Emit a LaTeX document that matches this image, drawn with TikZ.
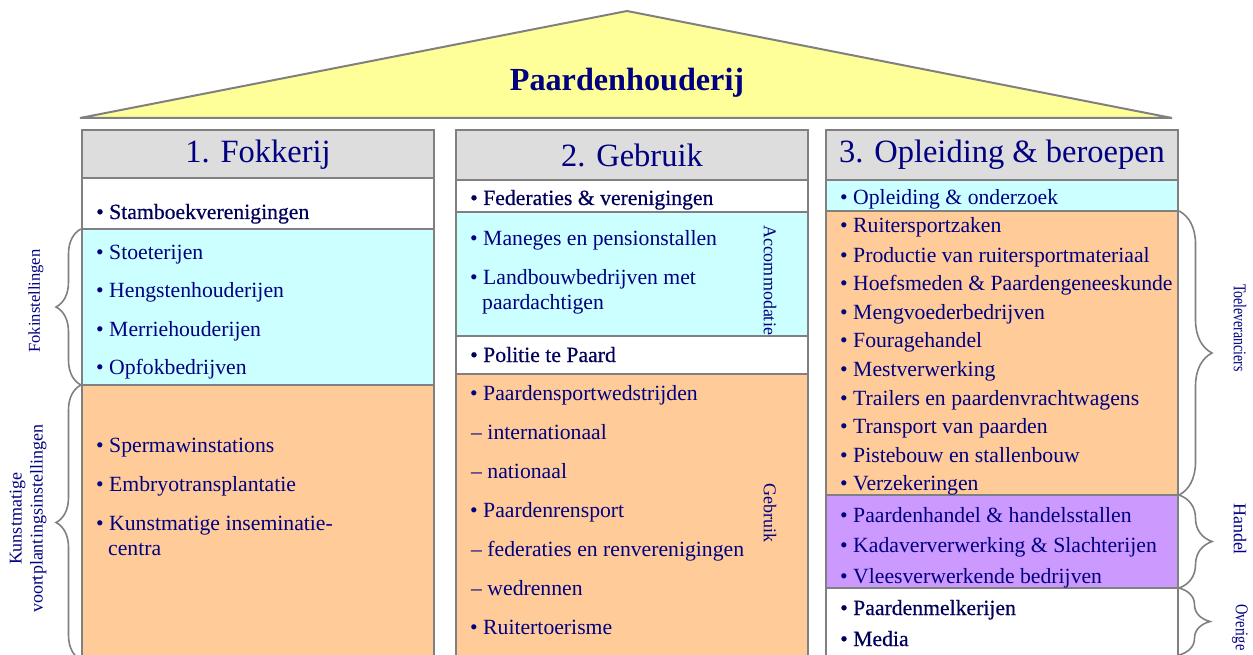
\documentclass[tikz,border=0pt]{standalone}
\usepackage{fontspec}
\setmainfont{Liberation Serif}
\newfontfamily\fakeb[FakeBold=0.5]{Liberation Serif}
\usetikzlibrary{decorations.pathreplacing}
\definecolor{navy}{RGB}{0,0,128}
\definecolor{dnavy}{RGB}{0,0,90}
\definecolor{edge}{RGB}{128,128,128}
\definecolor{roofc}{RGB}{255,255,153}
\definecolor{headc}{RGB}{221,221,221}
\definecolor{cyanc}{RGB}{204,255,255}
\definecolor{orangec}{RGB}{255,204,153}
\definecolor{purplec}{RGB}{204,153,255}
\begin{document}
\begin{tikzpicture}[x=1pt,y=-1pt,
  box/.style={draw=edge,line width=2pt},
  item/.style={anchor=base west,inner sep=0pt,text=navy,font=\fontsize{21.7}{24}\selectfont},
  bitem/.style={item,text=dnavy,font=\fontsize{21.7}{24}\selectfont\fakeb},
  head/.style={inner sep=0pt,text=navy,font=\fontsize{32.5}{36}\selectfont},
  side/.style={inner sep=0pt,text=navy,font=\fontsize{18}{21}\selectfont,align=center},
  brc/.style={draw=edge,line width=1.6pt,decorate,decoration={brace,amplitude=#1}}
]
\useasboundingbox (0,0) rectangle (1253,655);
% roof
\draw[draw=edge,line width=2pt,fill=roofc] (80,118) -- (627,11) -- (1172,118) -- cycle;
\node[inner sep=0pt,text=navy,font=\fontsize{32.2}{36}\selectfont\bfseries] (title) at (627,83) {Paardenhouderij};

% column 1
\draw[box,fill=headc] (82,130) rectangle (434,178);
\draw[box,fill=white] (82,178) rectangle (434,229);
\draw[box,fill=cyanc] (82,229) rectangle (434,385);
\draw[box,fill=orangec] (82,385) rectangle (434,660);
\node[head] (h1) at (258,155) {1. Fokkerij};
\node[bitem] (c1a) at (96,219) {•~Stamboekverenigingen};
\node[item] (c1b) at (96,259) {•~Stoeterijen};
\node[item] (c1c) at (96,297) {•~Hengstenhouderijen};
\node[item] (c1d) at (96,336) {•~Merriehouderijen};
\node[item] (c1e) at (96,374) {•~Opfokbedrijven};
\node[item] (c1f) at (96,452) {•~Spermawinstations};
\node[item] (c1g) at (96,491) {•~Embryotransplantatie};
\node[item] (c1h) at (96,530) {•~Kunstmatige inseminatie-};
\node[item] (c1i) at (108,555) {centra};

% column 2
\draw[box,fill=headc] (456,130) rectangle (808,180);
\draw[box,fill=white] (456,180) rectangle (808,212);
\draw[box,fill=cyanc] (456,212) rectangle (808,336);
\draw[box,fill=white] (456,336) rectangle (808,374);
\draw[box,fill=orangec] (456,374) rectangle (808,660);
\node[head] (h2) at (632,155) {2. Gebruik};
\node[bitem] (c2a) at (470,205) {•~Federaties \& verenigingen};
\node[item] (c2b) at (470,245) {•~Maneges en pensionstallen};
\node[item] (c2c) at (470,284) {•~Landbouwbedrijven met};
\node[item] (c2d) at (482,309) {paardachtigen};
\node[bitem] (c2e) at (470,362) {•~Politie te Paard};
\node[item] (c2f) at (470,400) {•~Paardensportwedstrijden};
\node[item] (c2g) at (471,439) {–~internationaal};
\node[item] (c2h) at (471,478) {–~nationaal};
\node[item] (c2i) at (470,517) {•~Paardenrensport};
\node[item] (c2j) at (471,556) {–~federaties en renverenigingen};
\node[item] (c2k) at (471,595) {–~wedrennen};
\node[item] (c2l) at (470,634) {•~Ruitertoerisme};
\node[side,rotate=-90] (acc) at (770,280) {Accommodatie};
\node[side,rotate=-90] (geb) at (770,513) {Gebruik};

% column 3
\draw[box,fill=headc] (826,130) rectangle (1178,180);
\draw[box,fill=cyanc] (826,180) rectangle (1178,211);
\draw[box,fill=orangec] (826,211) rectangle (1178,495);
\draw[box,fill=purplec] (826,495) rectangle (1178,588);
\draw[box,fill=white] (826,588) rectangle (1178,660);
\node[head] (h3) at (1002,155) {3. Opleiding \& beroepen};
\node[item] (c3a) at (840,205) {•~Opleiding \& onderzoek};
\node[item] (c3b) at (840,233) {•~Ruitersportzaken};
\node[item] (c3c) at (840,262) {•~Productie van ruitersportmateriaal};
\node[item] (c3d) at (840,290) {•~Hoefsmeden \& Paardengeneeskunde};
\node[item] (c3e) at (840,319) {•~Mengvoederbedrijven};
\node[item] (c3f) at (840,347) {•~Fouragehandel};
\node[item] (c3g) at (840,376) {•~Mestverwerking};
\node[item] (c3h) at (840,405) {•~Trailers en paardenvrachtwagens};
\node[item] (c3i) at (840,433) {•~Transport van paarden};
\node[item] (c3j) at (840,462) {•~Pistebouw en stallenbouw};
\node[item] (c3k) at (840,490) {•~Verzekeringen};
\node[item] (c3l) at (840,522) {•~Paardenhandel \& handelsstallen};
\node[item] (c3m) at (840,552) {•~Kadaververwerking \& Slachterijen};
\node[item] (c3n) at (840,583) {•~Vleesverwerkende bedrijven};
\node[bitem] (c3o) at (840,615) {•~Paardenmelkerijen};
\node[bitem] (c3p) at (840,646) {•~Media};

% braces left
\coordinate (l1t) at (81,229); \coordinate (l1b) at (81,385);
\coordinate (l2t) at (81,385); \coordinate (l2b) at (81,660);
\draw[brc=25] (l1b) -- (l1t);
\draw[brc=25] (l2b) -- (l2t);
\node[side,rotate=90,font=\fontsize{16.6}{20}\selectfont] (fok) at (36,301) {Fokinstellingen};
\node[side,rotate=90,font=\fontsize{18}{21}\selectfont] (kvi) at (28,519) {Kunstmatige\\voortplantingsinstellingen};

% braces right
\coordinate (r1t) at (1179,211); \coordinate (r1b) at (1179,495);
\coordinate (r2t) at (1179,495); \coordinate (r2b) at (1179,588);
\coordinate (r3t) at (1179,588); \coordinate (r3b) at (1179,655);
\draw[brc=33] (r1t) -- (r1b);
\draw[brc=33] (r2t) -- (r2b);
\draw[brc=31] (r3t) -- (r3b);
\node[side,rotate=-90,xscale=0.77] (toe) at (1240,328) {Toeleveranciers};
\node[side,rotate=-90] (han) at (1240,529) {Handel};
\node[side,rotate=-90,xscale=0.8,anchor=west] (ove) at (1240,604) {Overige};
\end{tikzpicture}
\end{document}
